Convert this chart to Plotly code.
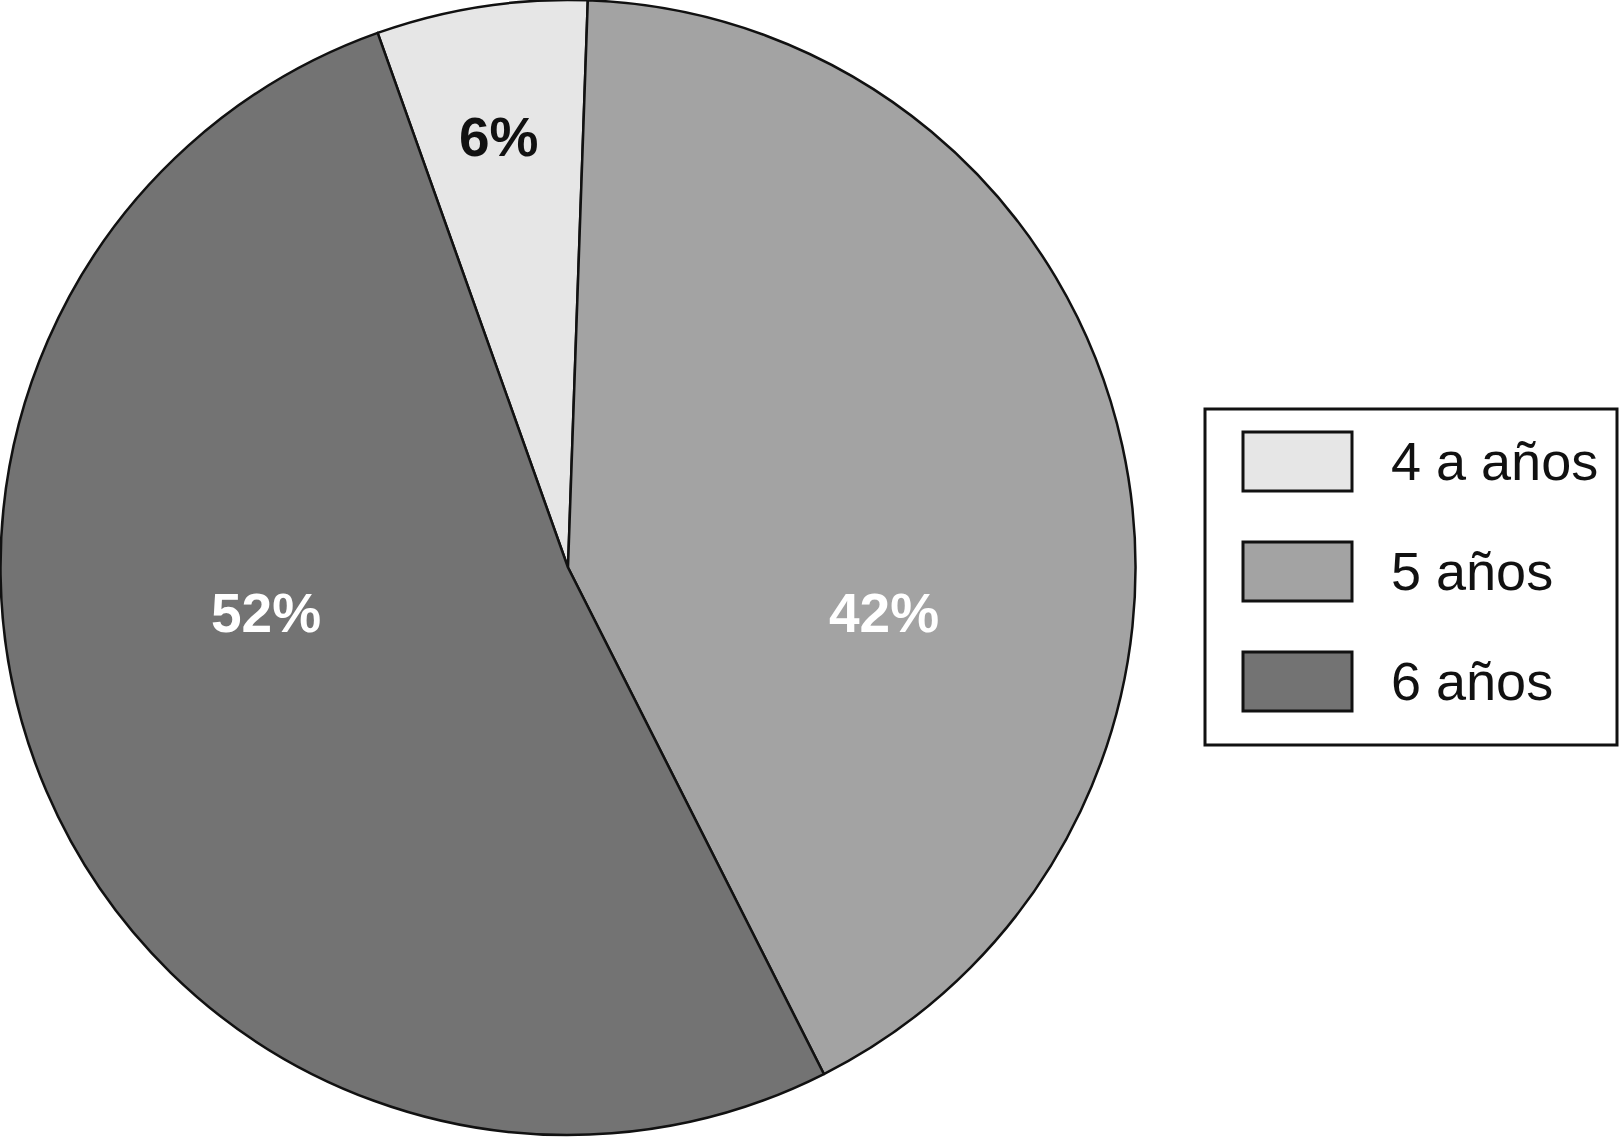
import plotly.graph_objects as go

categories = ["4 a años", "5 años", "6 años"]
values = [6, 42, 52]
colors = ["#e6e6e6", "#a3a3a3", "#737373"]
label_colors = ["#111111", "#ffffff", "#ffffff"]
# label positions (paper coords) for each slice's percentage text
label_pos = [(499 / 1620, 1 - 137 / 1139), (884 / 1620, 1 - 613 / 1139), (266 / 1620, 1 - 613 / 1139)]

W, H = 1620, 1139
fig = go.Figure()
fig.add_trace(go.Pie(
    labels=categories, values=values, sort=False, direction="clockwise",
    rotation=-19.6,
    marker=dict(colors=colors, line=dict(color="#111111", width=2.5)),
    textinfo="none", hoverinfo="label+percent", showlegend=False,
    domain=dict(x=[0, 1136 / W], y=[0.0035, 1.0]),
))

total = sum(values)
annotations = []
for cat, v, lc, (px, py) in zip(categories, values, label_colors, label_pos):
    annotations.append(dict(
        x=px, y=py, xref="paper", yref="paper", showarrow=False,
        text="<b>%d%%</b>" % round(100 * v / total),
        font=dict(family="Liberation Sans, Arial, sans-serif", size=55, color=lc),
        xanchor="center", yanchor="middle"))

shapes = [dict(type="rect", xref="paper", yref="paper",
               x0=1205 / W, x1=1617 / W, y0=1 - 745 / H, y1=1 - 409 / H,
               line=dict(color="#111111", width=3), fillcolor="white")]
row_tops = [432, 542, 652]
for cat, col, top in zip(categories, colors, row_tops):
    shapes.append(dict(type="rect", xref="paper", yref="paper",
                       x0=1243 / W, x1=1352 / W, y0=1 - (top + 59) / H, y1=1 - top / H,
                       line=dict(color="#111111", width=3), fillcolor=col))
    annotations.append(dict(
        x=1389 / W, y=1 - (top + 29) / H, xref="paper", yref="paper", showarrow=False,
        text=cat, font=dict(family="Liberation Sans, Arial, sans-serif", size=54, color="#111111"),
        xanchor="left", yanchor="middle"))

fig.update_layout(width=W, height=H, margin=dict(l=0, r=0, t=0, b=0),
                  paper_bgcolor="white", plot_bgcolor="white",
                  shapes=shapes, annotations=annotations)
fig.write_html("out.html", config={"displayModeBar": False},
               post_script="document.body.style.margin='0';")
